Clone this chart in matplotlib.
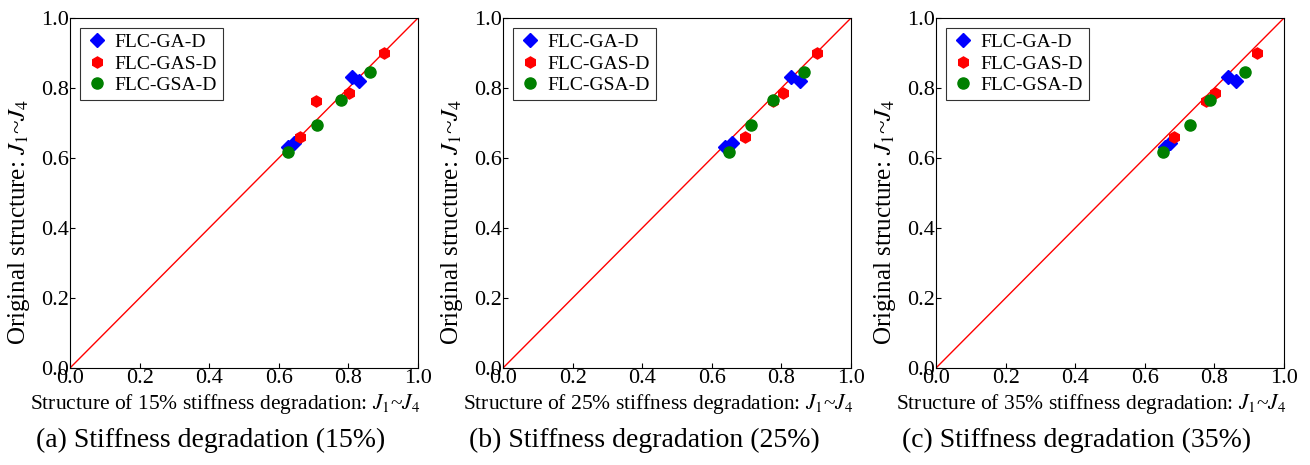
import matplotlib
matplotlib.use('Agg')
import matplotlib.pyplot as plt

plt.rcParams['font.family'] = ['Liberation Serif', 'DejaVu Serif']
plt.rcParams['mathtext.fontset'] = 'stix'

# nilai sumbu y (struktur asli) sama untuk ketiga panel
ga_y = [0.631, 0.643, 0.832, 0.821]
gas_y = [0.659, 0.762, 0.785, 0.901]
gsa_y = [0.618, 0.694, 0.765, 0.846]

# nilai sumbu x tiap tingkat degradasi
ga_x = {'15': [0.626, 0.644, 0.809, 0.831],
        '25': [0.639, 0.657, 0.827, 0.854],
        '35': [0.658, 0.673, 0.839, 0.863]}
gas_x = {'15': [0.662, 0.706, 0.801, 0.903],
         '25': [0.694, 0.777, 0.806, 0.902],
         '35': [0.683, 0.775, 0.801, 0.923]}
gsa_x = {'15': [0.627, 0.709, 0.779, 0.862],
         '25': [0.648, 0.713, 0.777, 0.865],
         '35': [0.653, 0.731, 0.788, 0.888]}

levels = ['15', '25', '35']
letters = ['a', 'b', 'c']
lefts = [70, 503, 936]


def main():
    fig = plt.figure(figsize=(13.1, 4.65), dpi=100)
    for i, lv in enumerate(levels):
        ax = fig.add_axes([lefts[i] / 1310, 1 - 368 / 465, 348 / 1310, 350 / 465])
        ax.plot([0, 1], [0, 1], color='red', lw=1)
        ax.plot(ga_x[lv], ga_y, 'D', color='blue', ms=7, ls='none', label='FLC-GA-D')
        ax.plot(gas_x[lv], gas_y, 'h', color='red', ms=8, ls='none', label='FLC-GAS-D')
        ax.plot(gsa_x[lv], gsa_y, 'o', color='green', ms=8, ls='none', label='FLC-GSA-D')
        ax.set_xlim(0, 1)
        ax.set_ylim(0, 1)
        ax.set_xticks([0, 0.2, 0.4, 0.6, 0.8, 1.0])
        ax.set_yticks([0, 0.2, 0.4, 0.6, 0.8, 1.0])
        ax.tick_params(direction='in', labelsize=16, pad=1)
        ax.set_xlabel('Structure of %s%% stiffness degradation: $J_1$~$J_4$' % lv,
                      fontsize=15.5)
        ax.set_ylabel('Original structure: $J_1$~$J_4$', fontsize=18)
        ax.xaxis.set_label_coords(0.447, -0.068)
        ax.yaxis.set_label_coords(-0.109, 0.417)
        leg = ax.legend(loc='upper left', fontsize=14, fancybox=False,
                        edgecolor='black', handletextpad=0.3, borderpad=0.3,
                        labelspacing=0.2, handlelength=1.2, borderaxespad=0.5)
        leg.get_frame().set_linewidth(0.8)
        fig.text((lefts[i] + 141) / 1310, 1 - 440 / 465,
                 '(%s) Stiffness degradation (%s%%)' % (letters[i], lv),
                 ha='center', va='center', fontsize=20)
    fig.savefig('out.png', dpi=100)


if __name__ == '__main__':
    main()
